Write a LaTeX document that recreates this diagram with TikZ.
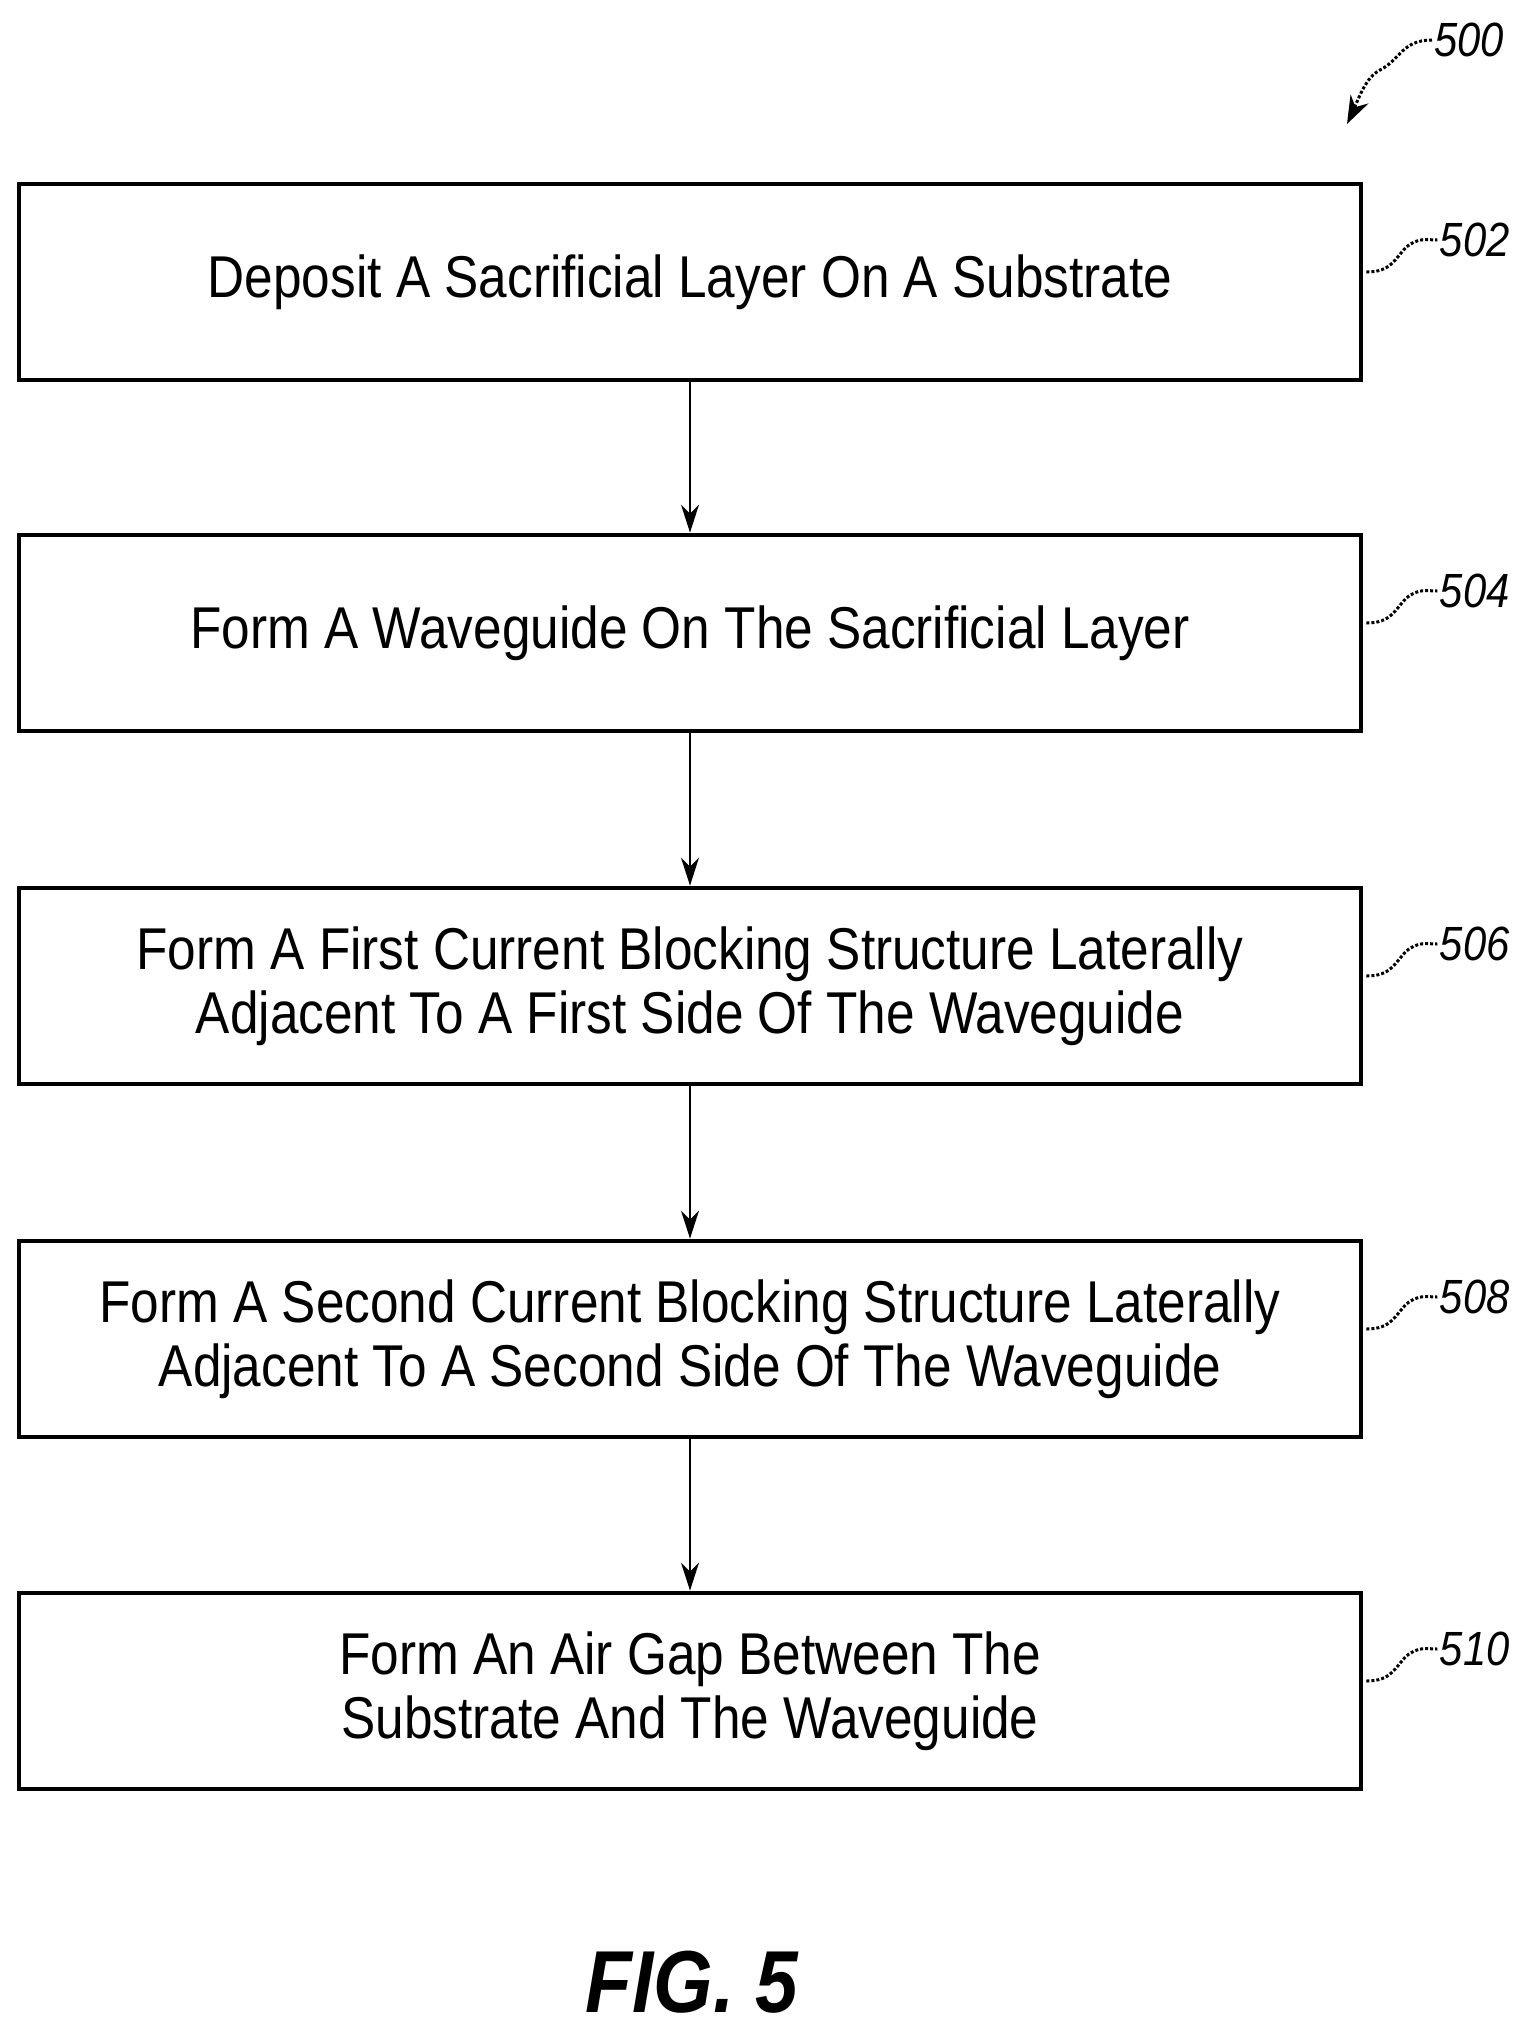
\documentclass[tikz,border=0pt]{standalone}
\usepackage{fontspec}
\setmainfont{Liberation Sans}[FakeStretch=0.87]
\usetikzlibrary{arrows.meta}
\begin{document}
\begin{tikzpicture}[x=0.5pt,y=-0.5pt,
 box/.style={draw,line width=2.4pt,minimum width=671pt,minimum height=98pt,inner sep=0pt,align=center,font=\fontsize{29.5}{32}\selectfont},
 lab/.style={font=\itshape\fontsize{24}{28}\selectfont,anchor=west,inner sep=1pt},
 sq/.style={densely dotted,line width=1.5pt},
 arr/.style={-{Stealth[length=14pt,width=9pt]},line width=1pt}]
\useasboundingbox (0,0) rectangle (1532,2040);
\node[box] (b1) at (690,282) {Deposit A Sacrificial Layer On A Substrate};
\node[box] (b2) at (690,633) {Form A Waveguide On The Sacrificial Layer};
\node[box] (b3) at (690,986) {Form A First Current Blocking Structure Laterally\\Adjacent To A First Side Of The Waveguide};
\node[box] (b4) at (690,1339) {Form A Second Current Blocking Structure Laterally\\Adjacent To A Second Side Of The Waveguide};
\node[box] (b5) at (690,1691) {Form An Air Gap Between The\\Substrate And The Waveguide};
\foreach \a/\b in {b1/b2,b2/b3,b3/b4,b4/b5} \draw[arr] (\a.south) -- (\b.north);
\foreach \n/\t in {b1/502,b2/504,b3/506,b4/508,b5/510}{
 \node[lab] (l\t) at ([shift={(74,-42)}]\n.east) {\t};
 \draw[sq] ([shift={(3,-10)}]\n.east) .. controls +(25,0) and +(-12,12) .. +(40,-25) .. controls +(12,-10) and +(-10,0) .. (l\t.west);
}
\node[lab] (l500) at (1432,40) {500};
\coordinate (a500) at (1347,124);
\draw[sq] (l500.west) .. controls +(-30,0) and +(20,-10) .. (1380,70) .. controls +(-15,8) and +(8,-15) .. (1352,112);
\draw[-{Stealth[length=14pt,width=10pt]},line width=1pt] (1356,106) -- (a500);
\node[font=\bfseries\itshape\fontsize{44}{48}\selectfont] (fig) at (692,1982) {FIG. 5};
\end{tikzpicture}
\end{document}
